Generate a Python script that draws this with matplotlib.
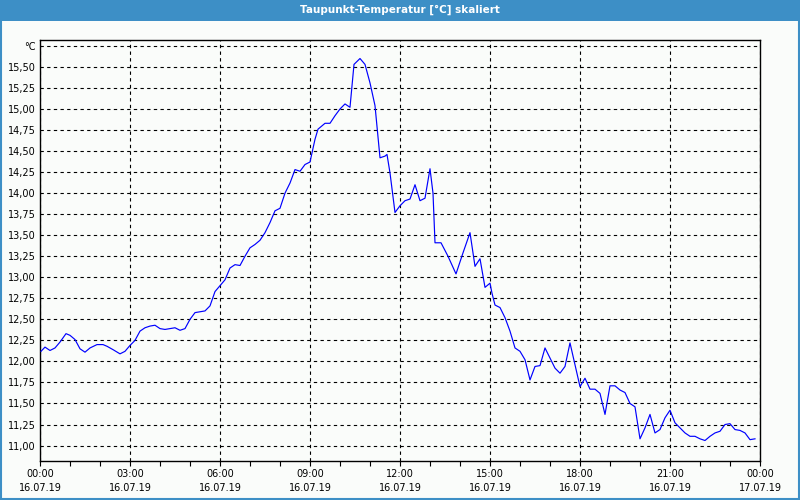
import matplotlib
matplotlib.use("Agg")
import matplotlib.pyplot as plt
from matplotlib.patches import Rectangle

# Time in minutes after 16.07.19 00:00
minutes = [2, 10, 20, 30, 40, 52, 60, 70, 80, 90,
           100, 114, 126, 134, 146, 160, 170, 180, 190, 200,
           210, 220, 230, 240, 250, 260, 270, 280, 290, 300,
           310, 330, 340, 350, 360, 370, 380, 390, 400, 410,
           420, 430, 440, 450, 460, 470, 480, 490, 500, 510,
           520, 530, 540, 550, 556, 564, 570, 580, 590, 600,
           610, 620, 628, 640, 650, 660, 670, 680, 690, 694,
           700, 710, 720, 730, 740, 750, 760, 770, 780, 786,
           790, 802, 816, 832, 846, 860, 870, 880, 890, 900,
           904, 910, 920, 930, 940, 950, 960, 970, 980, 990,
           1000, 1010, 1020, 1030, 1040, 1050, 1060, 1070, 1080, 1090,
           1100, 1110, 1120, 1130, 1140, 1150, 1160, 1170, 1180, 1190,
           1200, 1210, 1220, 1230, 1240, 1250, 1260, 1270, 1280, 1290,
           1300, 1310, 1320, 1330, 1340, 1350, 1360, 1370, 1380, 1390,
           1400, 1410, 1420, 1430]
dew_point = [12.12, 12.17, 12.13, 12.16, 12.23, 12.33, 12.31, 12.26, 12.15, 12.11,
             12.16, 12.20, 12.20, 12.18, 12.14, 12.09, 12.12, 12.19, 12.25, 12.36,
             12.40, 12.42, 12.43, 12.39, 12.38, 12.39, 12.40, 12.37, 12.39, 12.50,
             12.58, 12.60, 12.66, 12.83, 12.90, 12.97, 13.11, 13.15, 13.14, 13.25,
             13.35, 13.39, 13.44, 13.53, 13.65, 13.79, 13.82, 14.00, 14.12, 14.28,
             14.26, 14.34, 14.37, 14.64, 14.76, 14.80, 14.83, 14.83, 14.92, 15.00,
             15.06, 15.02, 15.53, 15.60, 15.53, 15.31, 15.04, 14.42, 14.44, 14.46,
             14.24, 13.77, 13.85, 13.91, 13.93, 14.10, 13.91, 13.94, 14.29, 14.00,
             13.41, 13.41, 13.25, 13.04, 13.29, 13.53, 13.13, 13.22, 12.88, 12.93,
             12.81, 12.67, 12.64, 12.52, 12.36, 12.16, 12.12, 12.02, 11.78, 11.94,
             11.95, 12.16, 12.04, 11.92, 11.86, 11.94, 12.22, 11.96, 11.70, 11.80,
             11.67, 11.67, 11.62, 11.37, 11.71, 11.71, 11.66, 11.63, 11.50, 11.46,
             11.08, 11.21, 11.37, 11.15, 11.19, 11.33, 11.42, 11.27, 11.21, 11.15,
             11.11, 11.11, 11.08, 11.06, 11.11, 11.15, 11.17, 11.25, 11.26, 11.19,
             11.18, 11.15, 11.07, 11.08]

y_ticks = [11.00, 11.25, 11.50, 11.75, 12.00, 12.25, 12.50, 12.75, 13.00, 13.25,
           13.50, 13.75, 14.00, 14.25, 14.50, 14.75, 15.00, 15.25, 15.50, 15.75]
y_labels = ["11,00", "11,25", "11,50", "11,75", "12,00", "12,25", "12,50", "12,75",
            "13,00", "13,25", "13,50", "13,75", "14,00", "14,25", "14,50", "14,75",
            "15,00", "15,25", "15,50", "°C"]
x_ticks_h = [0, 3, 6, 9, 12, 15, 18, 21, 24]
x_labels = ["00:00\n16.07.19", "03:00\n16.07.19", "06:00\n16.07.19", "09:00\n16.07.19",
            "12:00\n16.07.19", "15:00\n16.07.19", "18:00\n16.07.19", "21:00\n16.07.19",
            "00:00\n17.07.19"]
title = "Taupunkt-Temperatur [°C] skaliert"

bg = "#fafcfa"
bar = "#3d8fc6"

fig = plt.figure(figsize=(8, 5), dpi=100, facecolor=bg)
# title bar
fig.patches.append(Rectangle((0, 479 / 500), 1, 21 / 500, transform=fig.transFigure,
                             facecolor=bar, edgecolor="none", zorder=0))
# thin blue frame
fig.patches.append(Rectangle((0.001, 0.002), 0.998, 0.996, transform=fig.transFigure,
                             facecolor="none", edgecolor=bar, linewidth=1.5, zorder=1))
fig.text(0.5, 1 - 9.5 / 500, title, ha="center", va="center", color="white",
         fontsize=7.5, fontweight="semibold", family="DejaVu Sans")

ax = fig.add_axes([40 / 800, 1 - 460.7 / 500, 720 / 800, (460.7 - 40) / 500])
ax.set_facecolor(bg)
hours = [m / 60 for m in minutes]
ax.plot(hours, dew_point, color="#0000ff", linewidth=0.85, zorder=3)

ax.set_xlim(0, 24)
ax.set_ylim(10.82, 15.82)
ax.set_yticks(y_ticks)
ax.set_yticklabels(y_labels)
ax.set_xticks(x_ticks_h)
ax.set_xticklabels(x_labels, linespacing=1.45)
ax.set_xticks(list(range(0, 25)), minor=True)

ax.tick_params(axis="y", length=0, pad=3, labelsize=7)
ax.tick_params(axis="x", which="both", length=3.5, width=0.8, direction="out",
               pad=2.5, labelsize=7)
ax.grid(True, which="major", color="black", linestyle=(0, (3, 3)), linewidth=0.8)
for s in ax.spines.values():
    s.set_color("black")
    s.set_linewidth(1.0)

fig.savefig("out.png", dpi=100, facecolor=bg)
